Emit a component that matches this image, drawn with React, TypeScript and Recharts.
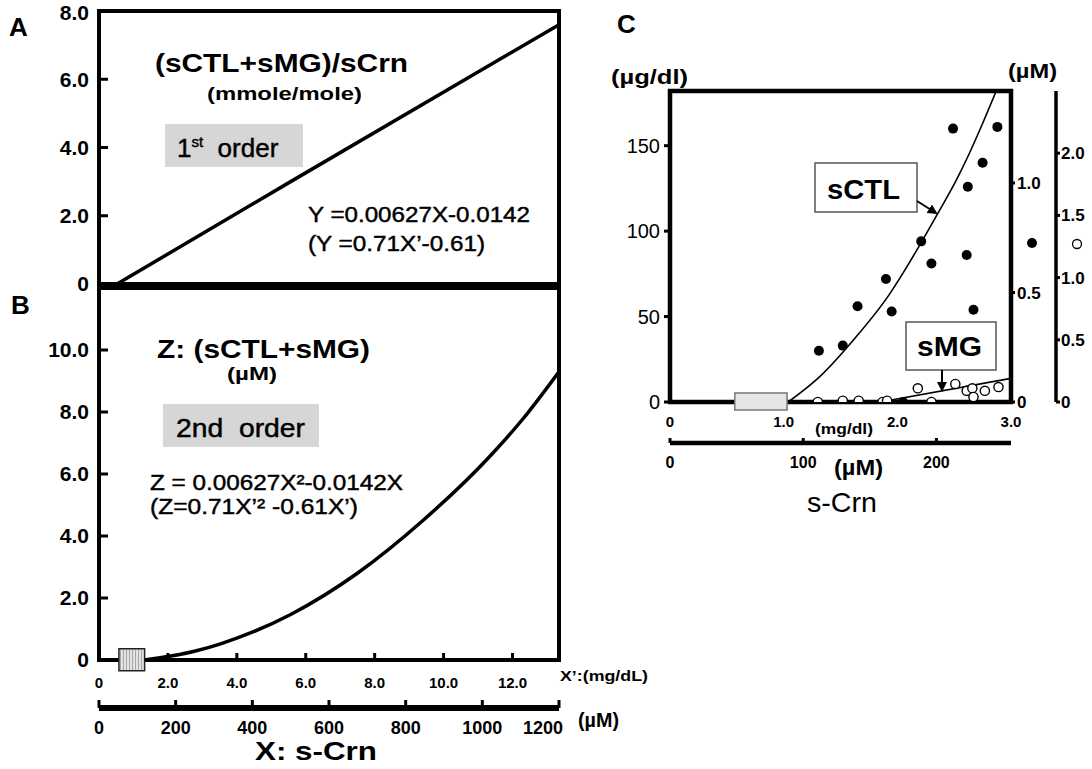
import React from "react";
import { ComposedChart, Line, Scatter, XAxis, YAxis, ReferenceArea } from "recharts";

const FONT = '"Liberation Sans", Arial, Helvetica, sans-serif';

// Panel A: (sCTL+sMG)/sCrn vs s-Crn (µM)
const ratioCrn = [47, 500, 1200];
const ratioVal = [0, 3.0, 7.6];

// Panel B: Z (sCTL+sMG) vs s-Crn (µM)
const sumCrn = [119, 249, 319, 500, 674, 845, 1018, 1104, 1200];
const sumVal = [0, 0.28, 0.53, 1.47, 2.8, 4.5, 6.55, 7.75, 9.3];
const normalRangeUm = [52, 119];

const ticksA = [0, 2, 4, 6, 8];
const ticksB = [0, 2, 4, 6, 8, 10];
const ticksMgDl = [0, 2, 4, 6, 8, 10, 12];
const ticksUm = [0, 200, 400, 600, 800, 1000, 1200];
const spanMgDl = [0, 13.35];

// Panel C: filled = sCTL (µg/dl), open = sMG (µM, outer right axis)
const ctlCrn = [1.31, 1.52, 1.65, 1.9, 1.95, 2.05, 2.21, 2.3, 2.49, 2.61, 2.62, 2.67, 2.75, 2.88];
const ctlVal = [30, 33, 56, 72, 53, 0, 94, 81, 160, 86, 126, 54, 140, 161];
const mgCrn = [1.3, 1.52, 1.66, 1.87, 1.91, 2.18, 2.3, 2.51, 2.61, 2.66, 2.67, 2.77, 2.89];
const mgVal = [0, 0.01, 0.01, 0, 0.01, 0.11, 0, 0.145, 0.09, 0.11, 0.04, 0.09, 0.12];
const ctlFitCrn = [1.04, 1.32, 1.61, 1.93, 2.11, 2.25, 2.37, 2.52, 2.63, 2.75, 2.87];
const ctlFitVal = [0, 15, 36, 63, 82, 98, 112, 130, 145, 163, 182];
const mgFitCrn = [1.85, 3.0];
const mgFitVal = [0, 0.19];
const normalRangeMg = [0.57, 1.03];

const ticksCLeft = [0, 50, 100, 150];
const ticksCtlUm = [0, 0.5, 1.0];
const ticksMgUm = [0, 0.5, 1.0, 1.5, 2.0];
const ticksCMg = [0, 1, 2, 3];
const ticksCUm = [0, 100, 200];
const spanCUm = [0, 256];
const spanCtlUm = [0, 1.42];

const zip = (xs: number[], ys: number[]) => xs.map((x, i) => ({ x, y: ys[i] }));

const fmt1 = (v: number) => (v === 0 ? "0" : v.toFixed(1));

const bold = (size: number) => ({ fill: "#000", fontSize: size, fontWeight: 700 });

// µM tick under panel B: the last label sits left of its tick, as in the figure
function UmTick(props: any) {
  const { x, y, payload } = props;
  const last = payload.value === 1200;
  return (
    <text
      x={last ? x + 4 : x}
      y={y}
      dy="0.71em"
      textAnchor={last ? "end" : "middle"}
      fontSize={18}
      fontWeight={700}
      fill="#000"
    >
      {payload.value}
    </text>
  );
}

function T({ x, y, size, len, w = 400, heavy = false, children }: any) {
  return (
    <text
      x={x}
      y={y}
      fontSize={size}
      fontWeight={w}
      textLength={len}
      lengthAdjust="spacingAndGlyphs"
      fill="#000"
      stroke={heavy ? "#000" : "none"}
      strokeWidth={heavy ? 0.45 : 0}
      style={{ whiteSpace: "pre" }}
    >
      {children}
    </text>
  );
}

// an axis only gets drawn when a series is bound to it
function AxisSpan(props: any) {
  return (
    <Line
      {...props}
      dataKey="y"
      stroke="none"
      dot={false}
      activeDot={false}
      legendType="none"
      isAnimationActive={false}
    />
  );
}

function PanelA() {
  return (
    <ComposedChart width={600} height={300} margin={{ top: 11, right: 41, bottom: 16, left: 0 }}>
      <XAxis xAxisId="um" type="number" dataKey="x" domain={[0, 1200]} hide />
      <YAxis
        type="number"
        dataKey="y"
        domain={[0, 8]}
        ticks={ticksA}
        width={99}
        axisLine={false}
        tickSize={-9}
        tickMargin={19}
        tickLine={{ stroke: "#000", strokeWidth: 3 }}
        tick={bold(21)}
        tickFormatter={fmt1}
      />
      <Line
        xAxisId="um"
        data={zip(ratioCrn, ratioVal)}
        dataKey="y"
        type="linear"
        stroke="#000"
        strokeWidth={3.5}
        dot={false}
        isAnimationActive={false}
      />
      <ReferenceArea xAxisId="um" x1={0} x2={1200} y1={0} y2={8} fill="none" stroke="#000" strokeWidth={4} />
    </ComposedChart>
  );
}

function PanelB() {
  return (
    <ComposedChart width={600} height={499} margin={{ top: 18, right: 41, bottom: 21, left: 0 }}>
      <defs>
        <pattern id="hatchB" width="3" height="6" patternUnits="userSpaceOnUse">
          <rect width="3" height="6" fill="#e2e2e2" />
          <line x1="0.5" y1="0" x2="0.5" y2="6" stroke="#a8a8a8" strokeWidth="1" />
        </pattern>
      </defs>
      <XAxis
        xAxisId="a_mg"
        type="number"
        dataKey="x"
        domain={spanMgDl}
        allowDataOverflow
        ticks={ticksMgDl}
        height={48}
        axisLine={false}
        tickSize={-7}
        tickMargin={24}
        tickLine={{ stroke: "#000", strokeWidth: 3 }}
        tick={bold(15)}
        tickFormatter={fmt1}
      />
      <XAxis
        xAxisId="b_um"
        type="number"
        dataKey="x"
        domain={[0, 1200]}
        allowDataOverflow
        ticks={ticksUm}
        height={40}
        axisLine={{ stroke: "#000", strokeWidth: 6 }}
        tickSize={-8}
        tickMargin={21}
        tickLine={{ stroke: "#000", strokeWidth: 3 }}
        tick={<UmTick />}
      />
      <YAxis
        type="number"
        dataKey="y"
        domain={[0, 12]}
        ticks={ticksB}
        width={99}
        axisLine={false}
        tickSize={-9}
        tickMargin={19}
        tickLine={{ stroke: "#000", strokeWidth: 3 }}
        tick={bold(21)}
        tickFormatter={fmt1}
        allowDataOverflow
      />
      <AxisSpan xAxisId="a_mg" data={zip(spanMgDl, [0, 0])} />
      <Line
        xAxisId="b_um"
        data={zip(sumCrn, sumVal)}
        dataKey="y"
        type="monotone"
        stroke="#000"
        strokeWidth={3.5}
        dot={false}
        isAnimationActive={false}
      />
      <ReferenceArea xAxisId="b_um" x1={0} x2={1200} y1={0} y2={12} fill="none" stroke="#000" strokeWidth={4} />
      <ReferenceArea
        xAxisId="b_um"
        x1={normalRangeUm[0]}
        x2={normalRangeUm[1]}
        y1={-0.35}
        y2={0.36}
        ifOverflow="visible"
        fill="url(#hatchB)"
        fillOpacity={1}
        stroke="#222"
        strokeWidth={1.5}
      />
    </ComposedChart>
  );
}

function PanelC() {
  return (
    <ComposedChart width={492} height={420} margin={{ top: 31, right: 0, bottom: 7, left: 10 }}>
      <XAxis
        xAxisId="a_mg"
        type="number"
        dataKey="x"
        domain={[0, 3]}
        allowDataOverflow
        ticks={ticksCMg}
        height={41}
        axisLine={false}
        tickLine={false}
        tickSize={0}
        tickMargin={14}
        tick={bold(15)}
        tickFormatter={fmt1}
      />
      <XAxis
        xAxisId="b_um"
        type="number"
        dataKey="x"
        domain={spanCUm}
        allowDataOverflow
        ticks={ticksCUm}
        height={30}
        axisLine={{ stroke: "#000", strokeWidth: 4.5 }}
        tickSize={-5}
        tickMargin={19}
        tickLine={{ stroke: "#000", strokeWidth: 3 }}
        tick={bold(16)}
      />
      <YAxis
        yAxisId="left"
        type="number"
        dataKey="y"
        domain={[0, 182]}
        ticks={ticksCLeft}
        width={60}
        axisLine={false}
        tickSize={6}
        tickMargin={4}
        tickLine={{ stroke: "#000", strokeWidth: 3 }}
        tick={{ fill: "#000", fontSize: 20 }}
        allowDataOverflow
      />
      <YAxis
        yAxisId="ctl"
        orientation="right"
        type="number"
        dataKey="y"
        domain={spanCtlUm}
        allowDataOverflow
        ticks={ticksCtlUm}
        width={45}
        axisLine={false}
        tickSize={4}
        tickMargin={2}
        tickLine={{ stroke: "#000", strokeWidth: 3 }}
        tick={bold(17)}
        tickFormatter={fmt1}
      />
      <YAxis
        yAxisId="mgum"
        orientation="right"
        type="number"
        dataKey="y"
        domain={[0, 2.5]}
        ticks={ticksMgUm}
        width={36}
        axisLine={{ stroke: "#000", strokeWidth: 3.5 }}
        tickSize={4}
        tickMargin={1}
        tickLine={{ stroke: "#000", strokeWidth: 3 }}
        tick={bold(17)}
        tickFormatter={fmt1}
        allowDataOverflow
      />
      <AxisSpan xAxisId="b_um" yAxisId="left" data={zip(spanCUm, [0, 0])} />
      <AxisSpan xAxisId="a_mg" yAxisId="ctl" data={zip([0, 3], spanCtlUm)} />
      <Line
        xAxisId="a_mg"
        yAxisId="left"
        data={zip(ctlFitCrn, ctlFitVal)}
        dataKey="y"
        type="monotone"
        stroke="#000"
        strokeWidth={1.6}
        dot={false}
        isAnimationActive={false}
      />
      <Line
        xAxisId="a_mg"
        yAxisId="mgum"
        data={zip(mgFitCrn, mgFitVal)}
        dataKey="y"
        type="linear"
        stroke="#000"
        strokeWidth={1.6}
        dot={false}
        isAnimationActive={false}
      />
      <ReferenceArea
        xAxisId="a_mg"
        yAxisId="left"
        x1={0}
        x2={3}
        y1={0}
        y2={182}
        fill="none"
        stroke="#000"
        strokeWidth={4.5}
      />
      <ReferenceArea
        xAxisId="a_mg"
        yAxisId="left"
        x1={normalRangeMg[0]}
        x2={normalRangeMg[1]}
        y1={-4.7}
        y2={5.3}
        ifOverflow="visible"
        fill="#e6e6e6"
        fillOpacity={1}
        stroke="#777"
        strokeWidth={1.5}
      />
      <Scatter
        xAxisId="a_mg"
        yAxisId="left"
        data={zip(ctlCrn, ctlVal)}
        dataKey="y"
        isAnimationActive={false}
        shape={(p: any) => <circle cx={p.cx} cy={p.cy} r={5} fill="#000" />}
      />
      <Scatter
        xAxisId="a_mg"
        yAxisId="mgum"
        data={zip(mgCrn, mgVal)}
        dataKey="y"
        isAnimationActive={false}
        shape={(p: any) => (
          <circle cx={p.cx} cy={p.cy} r={4.6} fill="#fff" stroke="#000" strokeWidth={1.4} />
        )}
      />
    </ComposedChart>
  );
}

function Notes() {
  return (
    <svg width={1092} height={769} style={{ position: "absolute", left: 0, top: 0, pointerEvents: "none" }}>
      <defs>
        <marker id="arr" markerWidth="10" markerHeight="10" refX="8" refY="5" orient="auto" markerUnits="userSpaceOnUse">
          <path d="M0,0 L10,5 L0,10 z" fill="#000" />
        </marker>
      </defs>

      {/* panel A */}
      <T x={9} y={36} size={26} w={700}>A</T>
      <T x={155} y={72} size={26} w={700} len={253}>(sCTL+sMG)/sCrn</T>
      <T x={207} y={100} size={19} w={700} len={155}>(mmole/mole)</T>
      <rect x={165} y={124} width={138} height={43} fill="#d6d6d6" />
      <text x={177} y={157} fontSize={26} fill="#000" stroke="#000" strokeWidth={0.45} style={{ whiteSpace: "pre" }}>
        1<tspan fontSize={15} dy={-10}>st</tspan>
        <tspan dy={10}>{"  order"}</tspan>
      </text>
      <T x={308} y={222} size={22} len={222} heavy>Y =0.00627X-0.0142</T>
      <T x={308} y={251} size={22} len={177} heavy>(Y =0.71X’-0.61)</T>

      {/* panel B */}
      <T x={11} y={314} size={26} w={700}>B</T>
      <T x={157} y={358} size={25} w={700} len={213}>Z: (sCTL+sMG)</T>
      <T x={227} y={380} size={18} w={700} len={50}>(µM)</T>
      <rect x={163} y={404} width={156} height={43} fill="#d6d6d6" />
      <T x={176} y={437} size={25} len={129} heavy>{"2nd  order"}</T>
      <T x={150} y={490} size={22} len={253} heavy>Z = 0.00627X²-0.0142X</T>
      <T x={150} y={514} size={22} len={208} heavy>(Z=0.71X’² -0.61X’)</T>

      {/* bottom axes of A/B */}
      <T x={560} y={681} size={14} w={700} len={88}>X’:(mg/dL)</T>
      <T x={578} y={727} size={21} w={700} len={41}>(µM)</T>
      <T x={255} y={760} size={26} w={700} len={122}>X: s-Crn</T>

      {/* panel C */}
      <T x={617} y={33} size={26} w={700}>C</T>
      <T x={611} y={84} size={20} w={700} len={77}>(µg/dl)</T>
      <T x={1008} y={78} size={20} w={700} len={49}>(µM)</T>
      <circle cx={1032} cy={243} r={5} fill="#000" />
      <circle cx={1077} cy={244} r={4.5} fill="#fff" stroke="#000" strokeWidth={1.3} />

      <rect x={815} y={163} width={102} height={49} fill="#fff" stroke="#555" strokeWidth={1.5} />
      <T x={827} y={199} size={27} w={700} len={73}>sCTL</T>
      <line x1={917} y1={201} x2={936} y2={213} stroke="#000" strokeWidth={2} markerEnd="url(#arr)" />

      <rect x={906} y={322} width={90} height={48} fill="#fff" stroke="#555" strokeWidth={1.5} />
      <T x={917} y={356} size={27} w={700} len={65}>sMG</T>
      <line x1={942} y1={370} x2={942} y2={390} stroke="#000" strokeWidth={2} markerEnd="url(#arr)" />

      <T x={815} y={434} size={14} w={700} len={58}>(mg/dl)</T>
      <T x={834} y={475} size={22} w={700} len={49}>(µM)</T>
      <T x={807} y={512} size={28} len={70}>s-Crn</T>
    </svg>
  );
}

export default function App() {
  return (
    <div
      style={{
        position: "absolute",
        left: 0,
        top: 0,
        width: 1092,
        height: 769,
        background: "#fff",
        fontFamily: FONT,
      }}
    >
      <div style={{ position: "absolute", left: 0, top: 0 }}>
        <PanelA />
      </div>
      <div style={{ position: "absolute", left: 0, top: 270 }}>
        <PanelB />
      </div>
      <div style={{ position: "absolute", left: 600, top: 60 }}>
        <PanelC />
      </div>
      <Notes />
    </div>
  );
}
